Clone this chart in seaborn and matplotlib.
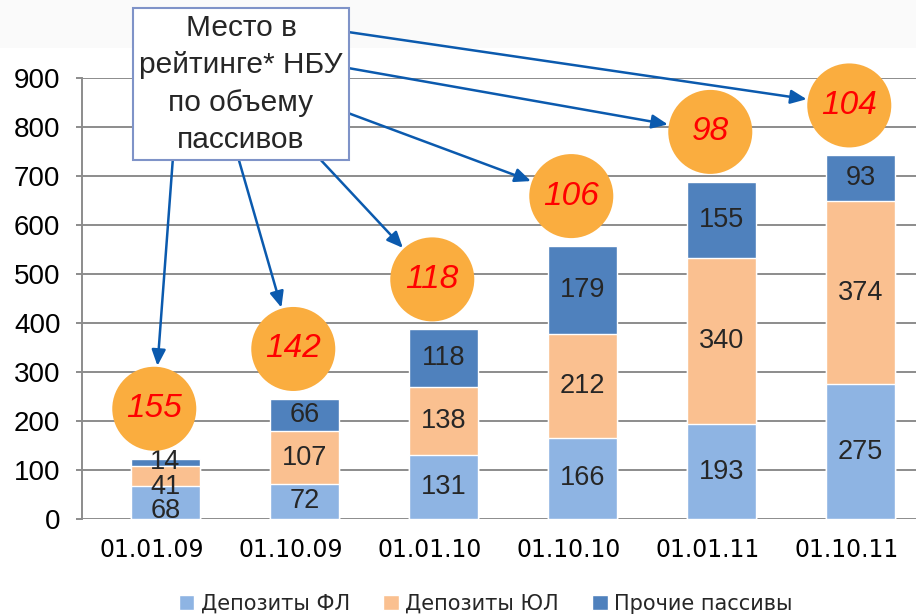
import matplotlib
matplotlib.use('Agg')
import matplotlib.pyplot as plt
from matplotlib.patches import Rectangle
from matplotlib.transforms import ScaledTranslation
import seaborn as sns
import pandas as pd
import numpy as np

# data
dates = ['01.01.09', '01.10.09', '01.01.10', '01.10.10', '01.01.11', '01.10.11']
dep_fl = [68, 72, 131, 166, 193, 275]
dep_ul = [41, 107, 138, 212, 340, 374]
other = [14, 66, 118, 179, 155, 93]
rank = [155, 142, 118, 106, 98, 104]
series_names = ['Депозиты ФЛ', 'Депозиты ЮЛ', 'Прочие пассивы']
box_text = 'Место в\nрейтинге* НБУ\nпо объему\nпассивов'

c_fl = '#8EB4E3'
c_ul = '#FAC090'
c_ot = '#4F81BD'
c_circle = '#FAAD3F'
c_arrow = '#0B5AAE'
c_grid = '#8C8C8C'

sns.set_theme(style='white')
plt.rcParams['font.family'] = ['Liberation Sans', 'DejaVu Sans']

df = pd.DataFrame({'date': dates, 'fl': dep_fl, 'ul': dep_ul, 'ot': other})
df['s1'] = df['fl']
df['s2'] = df['fl'] + df['ul']
df['s3'] = df['s2'] + df['ot']

W, H = 916, 615
fig = plt.figure(figsize=(W / 100, H / 100), dpi=100)
fig.patches.append(Rectangle((0, 1 - 48 / H), 1, 48 / H, transform=fig.transFigure,
                             facecolor='#FAFAFA', edgecolor='none', zorder=-5))
ax = fig.add_axes([82 / W, 1 - 519 / H, (W - 82) / W, (519 - 78) / H])
ax.set_facecolor('none')

# stacked bars: draw cumulative totals, tallest first
sns.barplot(data=df, x='date', y='s3', color=c_ot, width=0.5, ax=ax, saturation=1,
            label=series_names[2], zorder=3)
sns.barplot(data=df, x='date', y='s2', color=c_ul, width=0.5, ax=ax, saturation=1,
            label=series_names[1], zorder=3)
sns.barplot(data=df, x='date', y='s1', color=c_fl, width=0.5, ax=ax, saturation=1,
            label=series_names[0], zorder=3)

ax.set_xlim(-0.6, 5.4)
ax.set_ylim(0, 900)
ax.set_yticks(range(0, 901, 100))
ax.set_xlabel('')
ax.set_ylabel('')
ax.yaxis.grid(True, color=c_grid, linewidth=1.4, zorder=0)
ax.set_axisbelow(True)
for s in ['top', 'right', 'bottom']:
    ax.spines[s].set_visible(False)
ax.spines['left'].set_color(c_grid)
ax.spines['left'].set_linewidth(1.4)
ax.tick_params(axis='y', left=True, length=4.5, width=1.4, color=c_grid, pad=11,
               labelsize=20, labelcolor='black')
ax.tick_params(axis='x', length=0, pad=14, labelsize=17, labelcolor='black')
shift = ScaledTranslation(-14 / 100, 0, fig.dpi_scale_trans)
for lb in ax.get_xticklabels():
    lb.set_fontfamily('DejaVu Sans')
    lb.set_transform(lb.get_transform() + shift)

# segment labels, pushed down when a segment is too thin to hold its label
min_gap = 50
for i in range(len(dates)):
    vals = [dep_fl[i], dep_ul[i], other[i]]
    mids = [df['fl'][i] / 2, df['s1'][i] + dep_ul[i] / 2, df['s2'][i] + other[i] / 2]
    for k in (1, 0):
        mids[k] = min(mids[k], mids[k + 1] - min_gap)
    for v, y in zip(vals, mids):
        ax.text(i, y, str(v), ha='center', va='center', fontsize=19.5, zorder=5)

# rank circles
cx = np.arange(len(dates)) - 0.08
cy = df['s3'].values + 102
ax.scatter(cx, cy, s=3660, color=c_circle, edgecolor='none', zorder=6, clip_on=False)
for x, y, r in zip(cx, cy, rank):
    ax.text(x, y, str(r), ha='center', va='center', fontsize=24, color='#FF0000',
            style='italic', zorder=7, clip_on=False)

# callout box
fig.text(241 / W, 1 - 84 / H, box_text, ha='center', va='center', fontsize=21.5,
         linespacing=1.42, zorder=10,
         bbox=dict(boxstyle='square,pad=0.2', facecolor='white', edgecolor='#7F93C8', linewidth=1.5))

starts = [(173, 157), (238, 157), (318, 157), (348, 113), (348, 68), (348, 32)]
for (sx, sy), x, y in zip(starts, cx, cy):
    ax.annotate('', xy=(x, y), xycoords='data',
                xytext=(sx / W, 1 - sy / H), textcoords='figure fraction',
                arrowprops=dict(arrowstyle='-|>,head_length=0.8,head_width=0.35', color=c_arrow,
                                lw=1.8, shrinkA=0, shrinkB=31),
                zorder=9, annotation_clip=False)

# legend in series order
handles, labels = ax.get_legend_handles_labels()
order = [labels.index(n) for n in series_names]
fig.legend([handles[k] for k in order], [labels[k] for k in order], loc='center',
           bbox_to_anchor=(0.53, 1 - 604 / H), ncol=3, frameon=False,
           prop={'family': 'DejaVu Sans', 'size': 15}, handlelength=0.75, handleheight=0.75,
           handletextpad=0.3, columnspacing=1.6)
if ax.get_legend() is not None:
    ax.get_legend().remove()

fig.savefig('out.png', dpi=100)
